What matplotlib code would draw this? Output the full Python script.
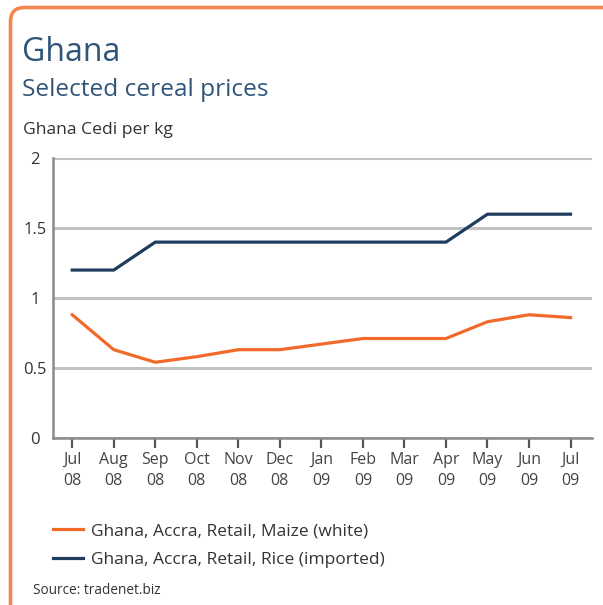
import matplotlib
matplotlib.use("Agg")
import matplotlib.pyplot as plt
from matplotlib.patches import FancyBboxPatch

# Monthly retail prices, Accra (Ghana Cedi per kg)
months = ["Jul\n08", "Aug\n08", "Sep\n08", "Oct\n08", "Nov\n08", "Dec\n08",
          "Jan\n09", "Feb\n09", "Mar\n09", "Apr\n09", "May\n09", "Jun\n09", "Jul\n09"]
maize_white = [0.88, 0.63, 0.54, 0.58, 0.63, 0.63, 0.67, 0.71, 0.71, 0.71, 0.83, 0.88, 0.86]
rice_imported = [1.2, 1.2, 1.4, 1.4, 1.4, 1.4, 1.4, 1.4, 1.4, 1.4, 1.6, 1.6, 1.6]
y_ticks = [0, 0.5, 1, 1.5, 2]
y_tick_labels = ["0", "0.5", "1", "1.5", "2"]

ORANGE = "#f26a2a"
NAVY = "#1e3d5e"
TITLE_BLUE = "#2f5578"
TEXT = "#333333"
GRID = "#c2c2c2"
SPINE = "#8a8a8a"
FRAME = "#f4874f"

plt.rcParams["font.family"] = ["Open Sans", "DejaVu Sans"]

W, H = 603, 605
fig = plt.figure(figsize=(W / 100, H / 100), dpi=100)

def fx(px):
    return px / W

def fy(py):
    return 1 - py / H

# Rounded orange frame (open towards right/bottom edges)
frame = FancyBboxPatch((10.5, -40), 640, H - 7.5 + 40,
                       boxstyle="round,pad=0,rounding_size=14",
                       transform=None, facecolor="none", edgecolor=FRAME,
                       linewidth=2.6, zorder=10)
fig.patches.append(frame)

ax = fig.add_axes([fx(52.7), fy(437.7), fx(591.7) - fx(52.7), fy(158.3) - fy(437.7)])

x = list(range(len(months)))
ax.plot(x, maize_white, color=ORANGE, linewidth=2.3, solid_joinstyle="round",
        label="Ghana, Accra, Retail, Maize (white)", zorder=3)
ax.plot(x, rice_imported, color=NAVY, linewidth=2.3, solid_joinstyle="round",
        label="Ghana, Accra, Retail, Rice (imported)", zorder=3)

ax.set_xlim(-0.47, 12.51)
ax.set_ylim(0, 2)
ax.set_yticks(y_ticks)
ax.set_yticklabels(y_tick_labels, ha="center")
ax.set_xticks(x)
ax.set_xticklabels(months, linespacing=1.45)

ax.yaxis.grid(True, color=GRID, linewidth=2.2)
ax.set_axisbelow(True)
for s in ["top", "right"]:
    ax.spines[s].set_visible(False)
for s in ["left", "bottom"]:
    ax.spines[s].set_color(SPINE)
    ax.spines[s].set_linewidth(1.8)
ax.spines["left"].set_zorder(4)
ax.spines["bottom"].set_zorder(4)

ax.tick_params(axis="y", length=0, pad=12.5, labelsize=12, labelcolor=TEXT)
ax.tick_params(axis="x", length=7, width=1.6, color="#555555", pad=3,
               labelsize=11.5, labelcolor="#444444")

# Titles
fig.text(fx(22), fy(61), "Ghana", fontsize=23, color=TITLE_BLUE, va="baseline", ha="left")
fig.text(fx(22.5), fy(95.5), "Selected cereal prices", fontsize=17.6, color=TITLE_BLUE,
         va="baseline", ha="left")
fig.text(fx(23), fy(133.5), "Ghana Cedi per kg", fontsize=12.6, color=TEXT,
         va="baseline", ha="left")

# Legend
handles, labels = ax.get_legend_handles_labels()
leg = fig.legend(handles, labels, loc="upper left",
                 bbox_to_anchor=(fx(46), fy(516)), frameon=False,
                 fontsize=12.5, handlelength=1.75, handletextpad=0.45,
                 labelspacing=0.72, borderaxespad=0)
for t in leg.get_texts():
    t.set_color(TEXT)

fig.text(fx(33), fy(594), "Source: tradenet.biz", fontsize=9.8, color=TEXT,
         va="baseline", ha="left")

fig.savefig("out.png", dpi=100, facecolor="white")
